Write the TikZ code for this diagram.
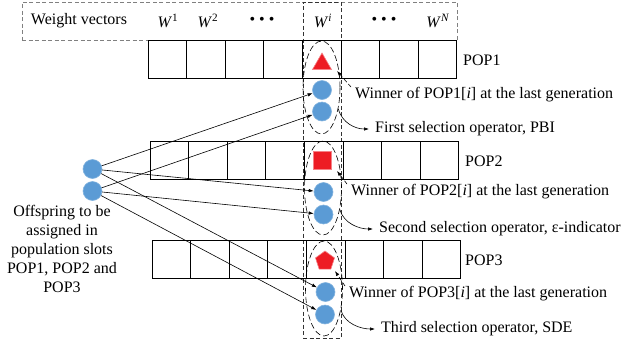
\documentclass[tikz,border=0pt]{standalone}
\usepackage{fontspec}
\setmainfont{Liberation Serif}
\usetikzlibrary{shapes.geometric,arrows.meta}

\definecolor{popred}{RGB}{237,28,36}
\definecolor{popblue}{RGB}{91,155,213}

\tikzset{
  hdrbox/.style={draw=gray, dash pattern=on 4pt off 2.5pt, line width=0.7pt, inner sep=0pt},
  colbox/.style={draw=black!80, dash pattern=on 4pt off 2.5pt, line width=0.7pt, inner sep=0pt},
  cell/.style={draw, line width=0.9pt, minimum width=38.6pt, minimum height=38pt, inner sep=0pt},
  sol/.style={circle, fill=popblue, draw=popblue!75!white, line width=0.6pt, minimum size=19pt, inner sep=0pt},
  winner/.style={fill=popred, draw=popred!55!white, line width=0.6pt, inner sep=0pt},
  group/.style={ellipse, draw, dash pattern=on 6pt off 3pt, line width=0.6pt, minimum width=37pt, minimum height=93pt, inner sep=0pt},
  feed/.style={-{Latex[length=5pt,width=3.5pt]}, line width=0.6pt},
  pick/.style={-{Latex[length=5pt,width=3.5pt]}, dash pattern=on 4pt off 2.5pt, line width=0.6pt},
  label/.style={anchor=west, inner sep=0pt}
}

\begin{document}
\begin{tikzpicture}[x=1pt,y=-1pt,font=\fontsize{16}{19}\selectfont]
  \useasboundingbox (0,0) rectangle (625,349);

  % weight vectors header and the W^i column
  \node (header) at (239.5,21) [hdrbox, minimum width=435pt, minimum height=38pt] {};
  \node (wcol)   at (322,170)  [colbox, minimum width=38pt, minimum height=336pt] {};
  \node (wtitle) at (79,21)  {Weight vectors};
  \node (w1)     at (168,21) {\textit{W}\textsuperscript{1}};
  \node (w2)     at (208,21) {\textit{W}\textsuperscript{2}};
  \node (wdots1) at (262,21) {\textbullet\hspace{4pt}\textbullet\hspace{4pt}\textbullet};
  \node (wi)     at (323,21) {\textit{W}\textsuperscript{\textit{i}}};
  \node (wdots2) at (384,21) {\textbullet\hspace{4pt}\textbullet\hspace{4pt}\textbullet};
  \node (wn)     at (438,21) {\textit{W}\textsuperscript{\textit{N}}};

  % population rows
  \foreach \r/\x/\y in {1/148/59, 2/150/160, 3/152/259.5}
    \foreach \k in {0,...,7}
      \node (pop\r c\k) at (\x+38.6*\k+19.3,\y) [cell] {};
  \node (pop1) at (463,60)  [label] {POP1};
  \node (pop2) at (465,161) [label] {POP2};
  \node (pop3) at (465,260) [label] {POP3};

  % winners kept in slot i
  \node (tri)  at (322,64)    [winner, regular polygon, regular polygon sides=3, minimum size=22pt] {};
  \node (sq)   at (322.5,160) [winner, minimum size=18pt] {};
  \node (pent) at (325,261)   [winner, regular polygon, regular polygon sides=5, minimum size=20pt] {};

  % candidates for slot i
  \node (r1a) at (322,90)      [sol] {};
  \node (r1b) at (322,111.5)   [sol] {};
  \node (r2a) at (323.5,192)   [sol] {};
  \node (r2b) at (323.5,214.5) [sol] {};
  \node (r3a) at (325.5,292)   [sol] {};
  \node (r3b) at (325,314.5)   [sol] {};

  \node (grp1) at (321.5,87.5) [group] {};
  \node (grp2) at (323,188)    [group, minimum height=94pt] {};
  \node (grp3) at (324,288.5)  [group, minimum height=95pt] {};

  % offspring
  \node (off1) at (92.5,169) [sol] {};
  \node (off2) at (92.5,191) [sol] {};
  \node (offtext) at (62,248.5) [align=center, inner sep=0pt]
    {Offspring to be\\assigned in\\population slots\\POP1, POP2 and\\POP3};

  \draw[feed] (off1) -- (r1a);
  \draw[feed] (off2) -- (r1b);
  \draw[feed] (off1) -- (r2a);
  \draw[feed] (off2) -- (r2b);
  \draw[feed] (off1) -- (r3a);
  \draw[feed] (off2) -- (r3b);

  % notes
  \node (win1) at (355,95)  [label] {Winner of POP1[\textit{i}] at the last generation};
  \node (sel1) at (375,129) [label] {First selection operator, PBI};
  \node (win2) at (351,192) [label] {Winner of POP2[\textit{i}] at the last generation};
  \node (sel2) at (379,229) [label] {Second selection operator, ε-indicator};
  \node (win3) at (349,294) [label] {Winner of POP3[\textit{i}] at the last generation};
  \node (sel3) at (381,329) [label] {Third selection operator, SDE};

  \draw[pick] ([shift={(-4,-8)}]win1.west) -- ([shift={(15,7)}]tri.center);
  \draw[pick] ([shift={(-4,-8)}]win2.west) -- ([shift={(14.5,11)}]sq.center);
  \draw[pick] ([shift={(-4,-8)}]win3.west) -- ([shift={(10,10)}]pent.center);

  \draw[feed] (grp1.-52) .. controls +(4,14) and +(-14,0) .. ([xshift=-6pt]sel1.west);
  \draw[feed] (grp2.-52) .. controls +(4,14) and +(-14,0) .. ([xshift=-6pt]sel2.west);
  \draw[feed] (grp3.-52) .. controls +(4,14) and +(-14,0) .. ([xshift=-6pt]sel3.west);
\end{tikzpicture}
\end{document}
